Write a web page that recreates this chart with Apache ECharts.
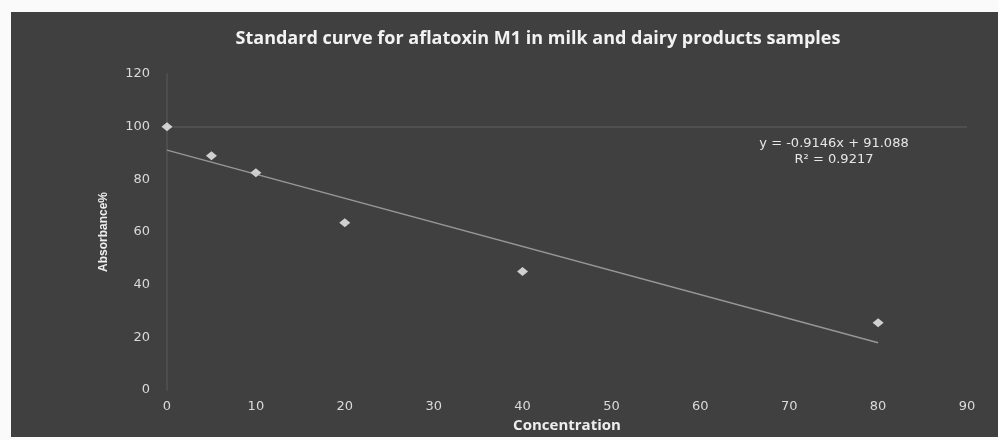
<!DOCTYPE html>
<html>
<head>
<meta charset="utf-8">
<script src="https://cdn.jsdelivr.net/npm/echarts@6/dist/echarts.min.js"></script>
<style>
  html, body { margin: 0; padding: 0; background: #fafafa; }
  #chart { position: absolute; left: 11px; top: 12px; width: 987px; height: 425px; background: #404040; }
</style>
</head>
<body>
<div id="chart"></div>
<script>
// 浓度 / 吸光度
const concentration = [0, 5, 10, 20, 40, 80];
const absorbance = [100, 89, 82.5, 63.5, 45, 25.5];

// 线性趋势线 y = slope * x + intercept
const trendSlope = -0.9146;
const trendIntercept = 91.088;
const trendRange = [0, 80];

const xTicks = { min: 0, max: 90, interval: 10 };
const yTicks = { min: 0, max: 120, interval: 20 };

const labelColor = '#dadada';

const chart = echarts.init(document.getElementById('chart'));

const points = concentration.map((x, i) => [x, absorbance[i]]);
const trendPoints = trendRange.map((x) => [x, trendSlope * x + trendIntercept]);

chart.setOption({
  backgroundColor: '#404040',
  animation: false,
  title: {
    text: 'Standard curve for aflatoxin M1 in milk and dairy products samples',
    left: 522,
    top: 13,
    textAlign: 'center',
    textStyle: {
      color: '#f2f2f2',
      fontFamily: 'Open Sans',
      fontWeight: 'bold',
      fontSize: 18,
    },
  },
  grid: {
    left: 156,
    right: 31,
    top: 62,
    bottom: 47,
    outerBoundsMode: 'none',
  },
  xAxis: {
    type: 'value',
    min: xTicks.min,
    max: xTicks.max,
    interval: xTicks.interval,
    name: 'Concentration',
    nameLocation: 'middle',
    nameGap: 26,
    nameTextStyle: { color: '#eeeeee', fontFamily: 'Open Sans', fontWeight: 'bold', fontSize: 15 },
    axisLine: { show: false },
    axisTick: { show: false },
    splitLine: { show: false },
    axisLabel: { color: labelColor, fontFamily: 'DejaVu Sans', fontSize: 13, margin: 10 },
  },
  yAxis: {
    type: 'value',
    min: yTicks.min,
    max: yTicks.max,
    interval: yTicks.interval,
    name: 'Absorbance%',
    nameLocation: 'middle',
    nameGap: 57,
    nameTextStyle: { color: '#eeeeee', fontFamily: 'Liberation Sans', fontWeight: 'bold', fontSize: 12 },
    axisLine: { show: true, lineStyle: { color: 'rgba(255,255,255,0.07)', width: 2 } },
    axisTick: { show: false },
    splitLine: { show: false },
    axisLabel: { color: labelColor, fontFamily: 'DejaVu Sans', fontSize: 13, margin: 17 },
  },
  series: [
    {
      name: 'Trendline',
      type: 'line',
      data: trendPoints,
      symbol: 'none',
      silent: true,
      lineStyle: { color: '#c4c4c4', width: 1.5, opacity: 0.65 },
      markLine: {
        silent: true,
        symbol: 'none',
        label: { show: false },
        lineStyle: { color: 'rgba(255,255,255,0.08)', type: 'solid', width: 2 },
        data: [{ yAxis: 100 }],
      },
    },
    {
      name: 'Absorbance',
      type: 'scatter',
      data: points,
      symbol: 'diamond',
      symbolSize: [11, 9],
      itemStyle: { color: '#f4f4f4' },
    },
  ],
  graphic: [
    {
      type: 'text',
      x: 823,
      y: 124,
      style: {
        text: 'y = -0.9146x + 91.088\nR² = 0.9217',
        fill: '#e6e6e6',
        font: '13px "DejaVu Sans"',
        align: 'center',
        lineHeight: 16,
      },
    },
  ],
});
</script>
</body>
</html>
